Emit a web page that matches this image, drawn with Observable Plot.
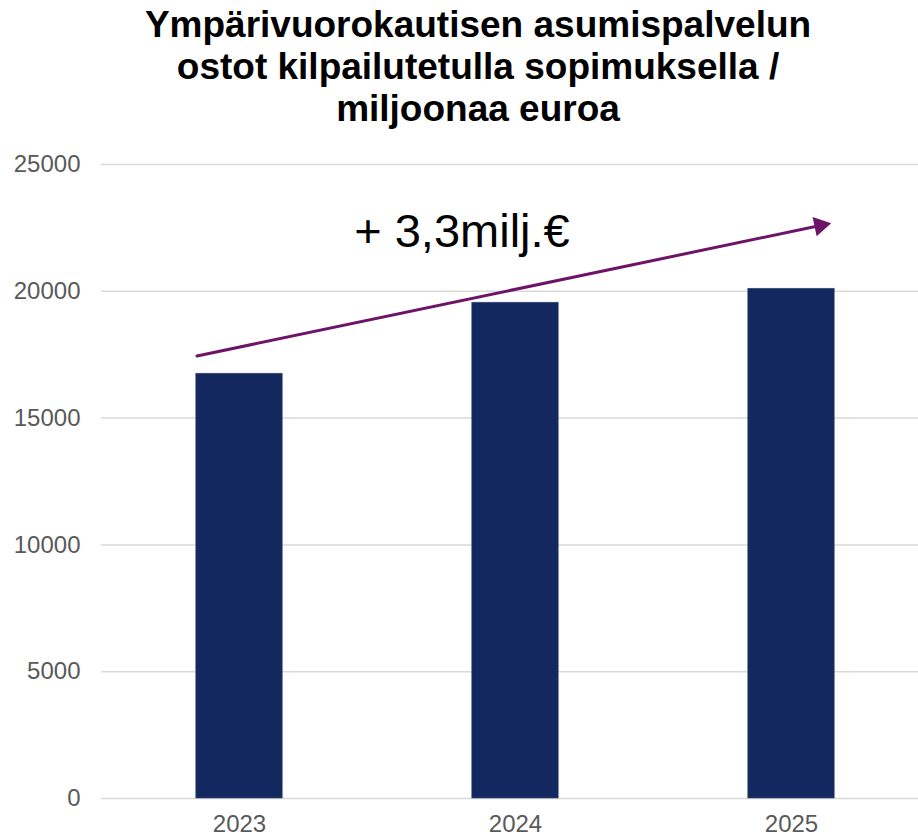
<!DOCTYPE html>
<html>
<head>
<meta charset="utf-8">
<script src="https://cdn.jsdelivr.net/npm/d3@7"></script>
<script src="https://cdn.jsdelivr.net/npm/@observablehq/plot@0.6"></script>
<style>
  html, body { margin: 0; padding: 0; background: #fff; }
  #title {
    width: 918px; box-sizing: border-box; height: 130px;
    padding: 4px 0 0 38px; margin: 0;
    font-family: "Liberation Sans", Arial, sans-serif; font-weight: bold;
    font-size: 37px; line-height: 42px; text-align: center; color: #000;
  }
  svg { display: block; }
</style>
</head>
<body>
<div id="title">Ympärivuorokautisen asumispalvelun<br>ostot kilpailutetulla sopimuksella /<br>miljoonaa euroa</div>
<div id="chart"></div>
<script>
const years = [2023, 2024, 2025];
const values = [16750, 19550, 20100];
const yTicks = [0, 5000, 10000, 15000, 20000, 25000];
const annotationLabel = "+ 3,3milj.€";
// trend arrow annotation (data coordinates)
const arrowFrom = [2022.846, 17450];
const arrowTo = [2025.144, 22685];
const labelAt = [2023.806, 22340];

const data = years.map((year, i) => ({year, value: values[i]}));

const chart = Plot.plot({
  width: 918,
  height: 708,
  marginTop: 34,
  marginBottom: 40,
  marginLeft: 101,
  marginRight: 0,
  style: {fontFamily: "'Liberation Sans', Arial, sans-serif", background: "#fff"},
  x: {type: "linear", domain: [2022.5, 2025.5], range: [101, 929]},
  y: {domain: [0, 25000]},
  marks: [
    Plot.gridY({ticks: yTicks, stroke: "#D9D9D9", strokeOpacity: 1, strokeWidth: 1.5}),
    Plot.rectY(data, {
      x1: d => d.year - 0.5, x2: d => d.year + 0.5, y1: 0, y2: "value",
      insetLeft: 94.8, insetRight: 94.8,
      fill: "#13285E", stroke: "#3A4C78", strokeWidth: 0.6
    }),
    Plot.axisY({ticks: yTicks, tickSize: 0, tickPadding: 21, tickFormat: d => String(d),
      fontSize: 24, fill: "#595959"}),
    Plot.axisX({ticks: years, tickSize: 0, tickPadding: 16, tickFormat: d => String(d),
      fontSize: 24, fill: "#595959"}),
    Plot.arrow([{x1: arrowFrom[0], y1: arrowFrom[1], x2: arrowTo[0], y2: arrowTo[1]}], {
      x1: "x1", y1: "y1", x2: "x2", y2: "y2",
      stroke: "#6E1468", strokeWidth: 3, headLength: 0, insetEnd: 10
    }),
    Plot.dot([{x: arrowTo[0], y: arrowTo[1]}], {
      x: "x", y: "y", symbol: "triangle", r: 7.3, rotate: 78.1,
      dx: -11.1, dy: 2.3, fill: "#6E1468", stroke: "none"
    }),
    Plot.text([{x: labelAt[0], y: labelAt[1], t: annotationLabel}], {
      x: "x", y: "y", text: "t", fontSize: 47, fill: "#000", textAnchor: "middle", lineAnchor: "middle"
    })
  ]
});
document.getElementById("chart").append(chart);
</script>
</body>
</html>
